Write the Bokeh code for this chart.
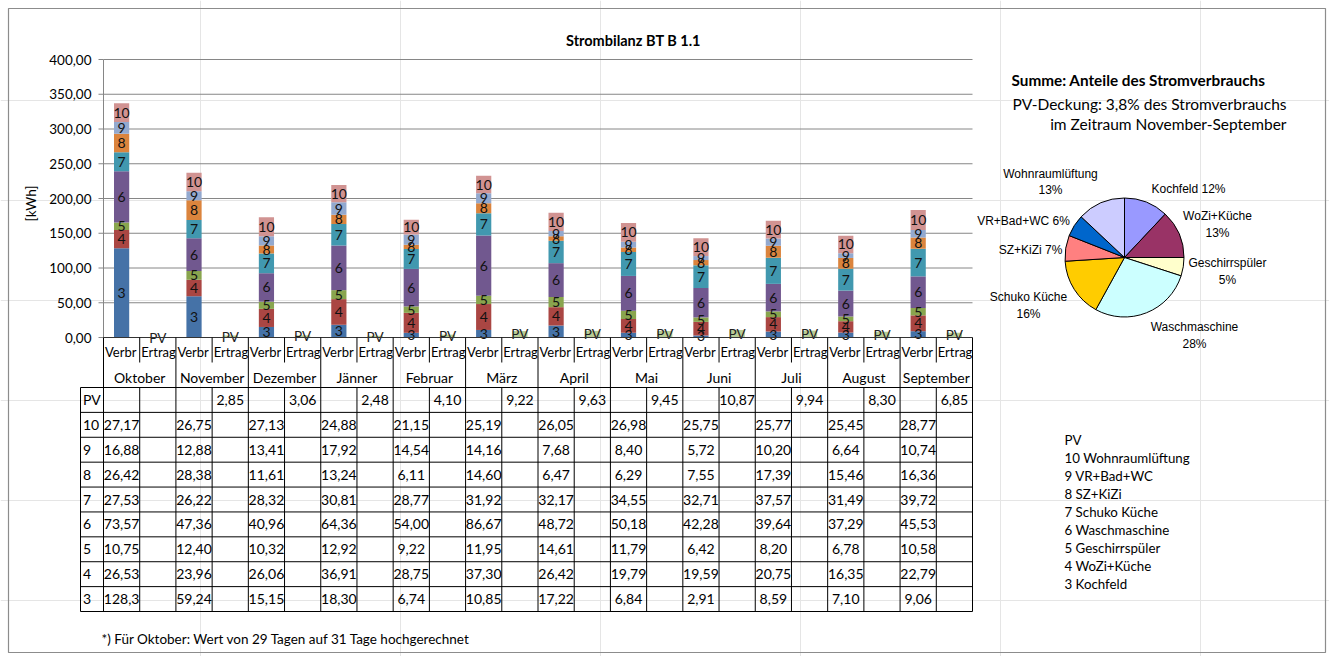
import numpy as np
from bokeh.plotting import figure
from bokeh.models import Range1d
from bokeh.core.properties import value
from bokeh.embed import file_html
from bokeh.resources import INLINE

# ---------------- data ----------------
months = ["Oktober", "November", "Dezember", "Jänner", "Februar", "März",
          "April", "Mai", "Juni", "Juli", "August", "September"]
sub_cats = ["Verbr", "Ertrag"]
series_ids = ["3", "4", "5", "6", "7", "8", "9", "10"]
series_names = ["Kochfeld", "WoZi+Küche", "Geschirrspüler", "Waschmaschine",
                "Schuko Küche", "SZ+KiZi", "VR+Bad+WC", "Wohnraumlüftung"]
s3 = [128.3, 59.24, 15.15, 18.30, 6.74, 10.85, 17.22, 6.84, 2.91, 8.59, 7.10, 9.06]
s4 = [26.53, 23.96, 26.06, 36.91, 28.75, 37.30, 26.42, 19.79, 19.59, 20.75, 16.35, 22.79]
s5 = [10.75, 12.40, 10.32, 12.92, 9.22, 11.95, 14.61, 11.79, 6.42, 8.20, 6.78, 10.58]
s6 = [73.57, 47.36, 40.96, 64.36, 54.00, 86.67, 48.72, 50.18, 42.28, 39.64, 37.29, 45.53]
s7 = [27.53, 26.22, 28.32, 30.81, 28.77, 31.92, 32.17, 34.55, 32.71, 37.57, 31.49, 39.72]
s8 = [26.42, 28.38, 11.61, 13.24, 6.11, 14.60, 6.47, 6.29, 7.55, 17.39, 15.46, 16.36]
s9 = [16.88, 12.88, 13.41, 17.92, 14.54, 14.16, 7.68, 8.40, 5.72, 10.20, 6.64, 10.74]
s10 = [27.17, 26.75, 27.13, 24.88, 21.15, 25.19, 26.05, 26.98, 25.75, 25.77, 25.45, 28.77]
pv = [None, 2.85, 3.06, 2.48, 4.10, 9.22, 9.63, 9.45, 10.87, 9.94, 8.30, 6.85]
y_ticks = [0, 50, 100, 150, 200, 250, 300, 350, 400]

pie_names = ["Kochfeld", "WoZi+Küche", "Geschirrspüler", "Waschmaschine",
             "Schuko Küche", "SZ+KiZi", "VR+Bad+WC", "Wohnraumlüftung"]
pie_shares = [12, 13, 5, 28, 16, 7, 6, 13]

title = "Strombilanz BT B 1.1"
y_label = "[kWh]"
pie_title = "Summe: Anteile des Stromverbrauchs"
pie_sub1 = "PV-Deckung: 3,8% des Stromverbrauchs"
pie_sub2 = "im Zeitraum November-September"
footnote = "*) Für Oktober: Wert von 29 Tagen auf 31 Tage hochgerechnet"

series = [s3, s4, s5, s6, s7, s8, s9, s10]

# ---------------- styles / layout ----------------
bar_colors = ["#4572A7", "#AA4643", "#89A54E", "#71588F", "#4198AF",
              "#DB843D", "#93A9CF", "#D19392"]
pv_color = "#B9CD96"
pie_colors = ["#9999FF", "#993366", "#FFFFCC", "#CCFFFF", "#FFCC00",
              "#FF8080", "#0066CC", "#CCCCFF"]
FONT = value("Lato")
PIEFONT = value("Liberation Sans")

W, H = 1329, 656
PX0, PX1 = 103, 972
PY_TOP, PY_ZERO = 59, 337
CAT_MID = 362
TAB_LEFT, TAB_TOP, TAB_BOT = 80, 387, 611
GRID = "#868686"

# pie label layout: (x, y line1, y line2 or None)
pie_label_pos = [(1188, 188, None), (1217, 215, 232), (1227, 262, 279),
                 (1194, 326, 343), (1028, 296, 313), (1030, 249, None),
                 (1023, 220, None), (1050, 173, 189)]
PIE_CX, PIE_CY, PIE_R = 1124, 257, 59.5


def fmt(v):
    if v is None:
        return ""
    s = f"{v:.2f}" if v < 100 else f"{v:.1f}"
    return s.replace(".", ",")


def fmt_tick(v):
    return f"{v:.2f}".replace(".", ",")


p = figure(width=W, height=H, x_range=Range1d(0, W), y_range=Range1d(H, 0),
           output_backend="svg", toolbar_location=None, tools="",
           min_border=0, x_axis_location=None, y_axis_location=None,
           outline_line_color=None)
p.background_fill_color = "white"
p.border_fill_color = "white"

# outer frame
p.quad(left=[8], right=[1325], top=[8], bottom=[652], fill_color=None,
       line_color="#8c8c8c", line_width=1.2)

n_cols = len(months) * len(sub_cats)

# ---------------- bar chart sub-coordinates ----------------
bars = p.subplot(x_source=Range1d(0, n_cols), y_source=Range1d(y_ticks[0], y_ticks[-1]),
                 x_target=Range1d(PX0, PX1), y_target=Range1d(PY_ZERO, PY_TOP))

gt = [t for t in y_ticks if t > 0]
bars.segment(x0=[0] * len(gt), x1=[n_cols] * len(gt), y0=gt, y1=gt,
             line_color=GRID, line_width=1)
bars.segment(x0=[0], x1=[0], y0=[y_ticks[0]], y1=[y_ticks[-1]], line_color=GRID, line_width=1)
bars.ray(x=[0] * len(y_ticks), y=y_ticks, length=5, length_units="screen",
         angle=np.pi, line_color=GRID, line_width=1)
bars.text(x=[0] * len(y_ticks), y=y_ticks, text=[fmt_tick(float(t)) for t in y_ticks],
          x_offset=-12, text_align="right", text_baseline="middle",
          text_font=FONT, text_font_size="13.5px", text_color="#000000")

xv = np.arange(len(months)) * 2 + 0.5
xe = np.arange(len(months)) * 2 + 1.5
bottom = np.zeros(len(months))
lab_x, lab_y, lab_t = [], [], []
for sid, vals, col in zip(series_ids, series, bar_colors):
    v = np.array(vals, dtype=float)
    top = bottom + v
    bars.vbar(x=xv, bottom=bottom, top=top, width=0.42, fill_color=col, line_color=None)
    lab_x += list(xv)
    lab_y += list((bottom + top) / 2)
    lab_t += [sid] * len(months)
    bottom = top

pv_vals = np.array([0.0 if v is None else v for v in pv])
bars.vbar(x=xe, bottom=0, top=pv_vals, width=0.42, fill_color=pv_color, line_color=None)

bars.text(x=lab_x, y=lab_y, text=lab_t, text_align="center", text_baseline="middle",
          text_font=FONT, text_font_size="14px", text_color="#111111")
bars.text(x=xe, y=pv_vals / 2, text=["PV"] * len(months), text_align="center",
          text_baseline="middle", text_font=FONT, text_font_size="13.5px", text_color="#222222")

# ---------------- category axis + table (x mapped, y canvas) ----------------
cats = p.subplot(x_source=Range1d(0, n_cols), y_source=Range1d(H, 0),
                 x_target=Range1d(PX0, PX1), y_target=Range1d(H, 0))

cats.segment(x0=[0], x1=[n_cols], y0=[PY_ZERO], y1=[PY_ZERO], line_color="#333333", line_width=1)
mb = list(range(0, n_cols + 1, 2))
cats.segment(x0=mb, x1=mb, y0=[PY_ZERO] * len(mb), y1=[TAB_BOT] * len(mb),
             line_color="#000000", line_width=1)
sb = list(range(1, n_cols, 2))
cats.segment(x0=sb, x1=sb, y0=[PY_ZERO] * len(sb), y1=[CAT_MID] * len(sb),
             line_color="#000000", line_width=1)
cats.segment(x0=sb, x1=sb, y0=[TAB_TOP] * len(sb), y1=[TAB_BOT] * len(sb),
             line_color="#000000", line_width=1)

sub_x = list(np.arange(len(months)) * 2) + list(np.arange(len(months)) * 2 + 1)
sub_t = [sub_cats[0]] * len(months) + [sub_cats[1]] * len(months)
cats.text(x=sub_x, y=[351] * len(sub_x), text=sub_t, x_offset=1.5, text_align="left",
          text_baseline="middle", text_font=FONT, text_font_size="13px", text_color="#000000")
cats.text(x=list(np.arange(len(months)) * 2 + 1), y=[377] * len(months), text=months,
          text_align="center", text_baseline="middle", text_font=FONT,
          text_font_size="14px", text_color="#000000")

# table
row_labels = ["PV"] + series_ids[::-1]
row_data = [pv] + series[::-1]
n_rows = len(row_labels)
row_h = (TAB_BOT - TAB_TOP) / n_rows
hy = [TAB_TOP + r * row_h for r in range(n_rows + 1)]
p.segment(x0=[TAB_LEFT] * len(hy), x1=[PX1] * len(hy), y0=hy, y1=hy,
          line_color="#000000", line_width=1)
p.segment(x0=[TAB_LEFT], x1=[TAB_LEFT], y0=[TAB_TOP], y1=[TAB_BOT], line_color="#000000", line_width=1)

tx, ty, tt = [], [], []
for r, (lab, vals) in enumerate(zip(row_labels, row_data)):
    cy = TAB_TOP + (r + 0.5) * row_h
    xs = xe if lab == "PV" else xv
    for x, v in zip(xs, vals):
        if v is None:
            continue
        tx.append(x); ty.append(cy); tt.append(fmt(v))
cats.text(x=tx, y=ty, text=tt, text_align="center", text_baseline="middle",
          text_font=FONT, text_font_size="14px", text_color="#000000")
p.text(x=[TAB_LEFT + 2.5] * n_rows, y=[TAB_TOP + (r + 0.5) * row_h for r in range(n_rows)],
       text=row_labels, text_align="left", text_baseline="middle",
       text_font=FONT, text_font_size="14px", text_color="#000000")

# ---------------- titles ----------------
p.text(x=[633], y=[40], text=[title], text_align="center", text_baseline="middle",
       text_font=FONT, text_font_size="14.5px", text_font_style="bold", text_color="#000000")
p.text(x=[30], y=[203], text=[y_label], angle=np.pi / 2, text_align="center",
       text_baseline="middle", text_font=FONT, text_font_size="13.5px", text_color="#000000")
p.text(x=[1011], y=[79], text=[pie_title], text_align="left", text_baseline="middle",
       text_font=FONT, text_font_size="15.3px", text_font_style="bold", text_color="#000000")
p.text(x=[1286, 1286], y=[103, 123], text=[pie_sub1, pie_sub2], text_align="right",
       text_baseline="middle", text_font=FONT, text_font_size="15.5px", text_color="#000000")

# ---------------- pie ----------------
shares = np.array(pie_shares, dtype=float)
frac = shares / shares.sum()
cum_end = np.cumsum(frac)
cum_start = cum_end - frac
p.wedge(x=[PIE_CX] * len(frac), y=[PIE_CY] * len(frac), radius=PIE_R, radius_units="screen",
        start_angle=np.pi / 2 - 2 * np.pi * cum_end, end_angle=np.pi / 2 - 2 * np.pi * cum_start,
        direction="anticlock", fill_color=pie_colors, line_color="#000000", line_width=1)

px, py, pt = [], [], []
for name, sh, (lx, ly1, ly2) in zip(pie_names, pie_shares, pie_label_pos):
    if ly2 is None:
        px.append(lx); py.append(ly1); pt.append(f"{name} {sh}%")
    else:
        px += [lx, lx]; py += [ly1, ly2]; pt += [name, f"{sh}%"]
p.text(x=px, y=py, text=pt, text_align="center", text_baseline="middle",
       text_font=PIEFONT, text_font_size="12px", text_color="#000000")

# ---------------- legend text list ----------------
leg = ["PV"] + [f"{i} {n}" for i, n in zip(series_ids[::-1], series_names[::-1])]
p.text(x=[1064] * len(leg), y=[439 + 18 * k for k in range(len(leg))], text=leg,
       text_align="left", text_baseline="middle", text_font=FONT,
       text_font_size="13.3px", text_color="#000000")

# footnote
p.text(x=[101], y=[638], text=[footnote], text_align="left", text_baseline="middle",
       text_font=FONT, text_font_size="13.5px", text_color="#000000")

open("out.html", "w").write(file_html(p, INLINE))
